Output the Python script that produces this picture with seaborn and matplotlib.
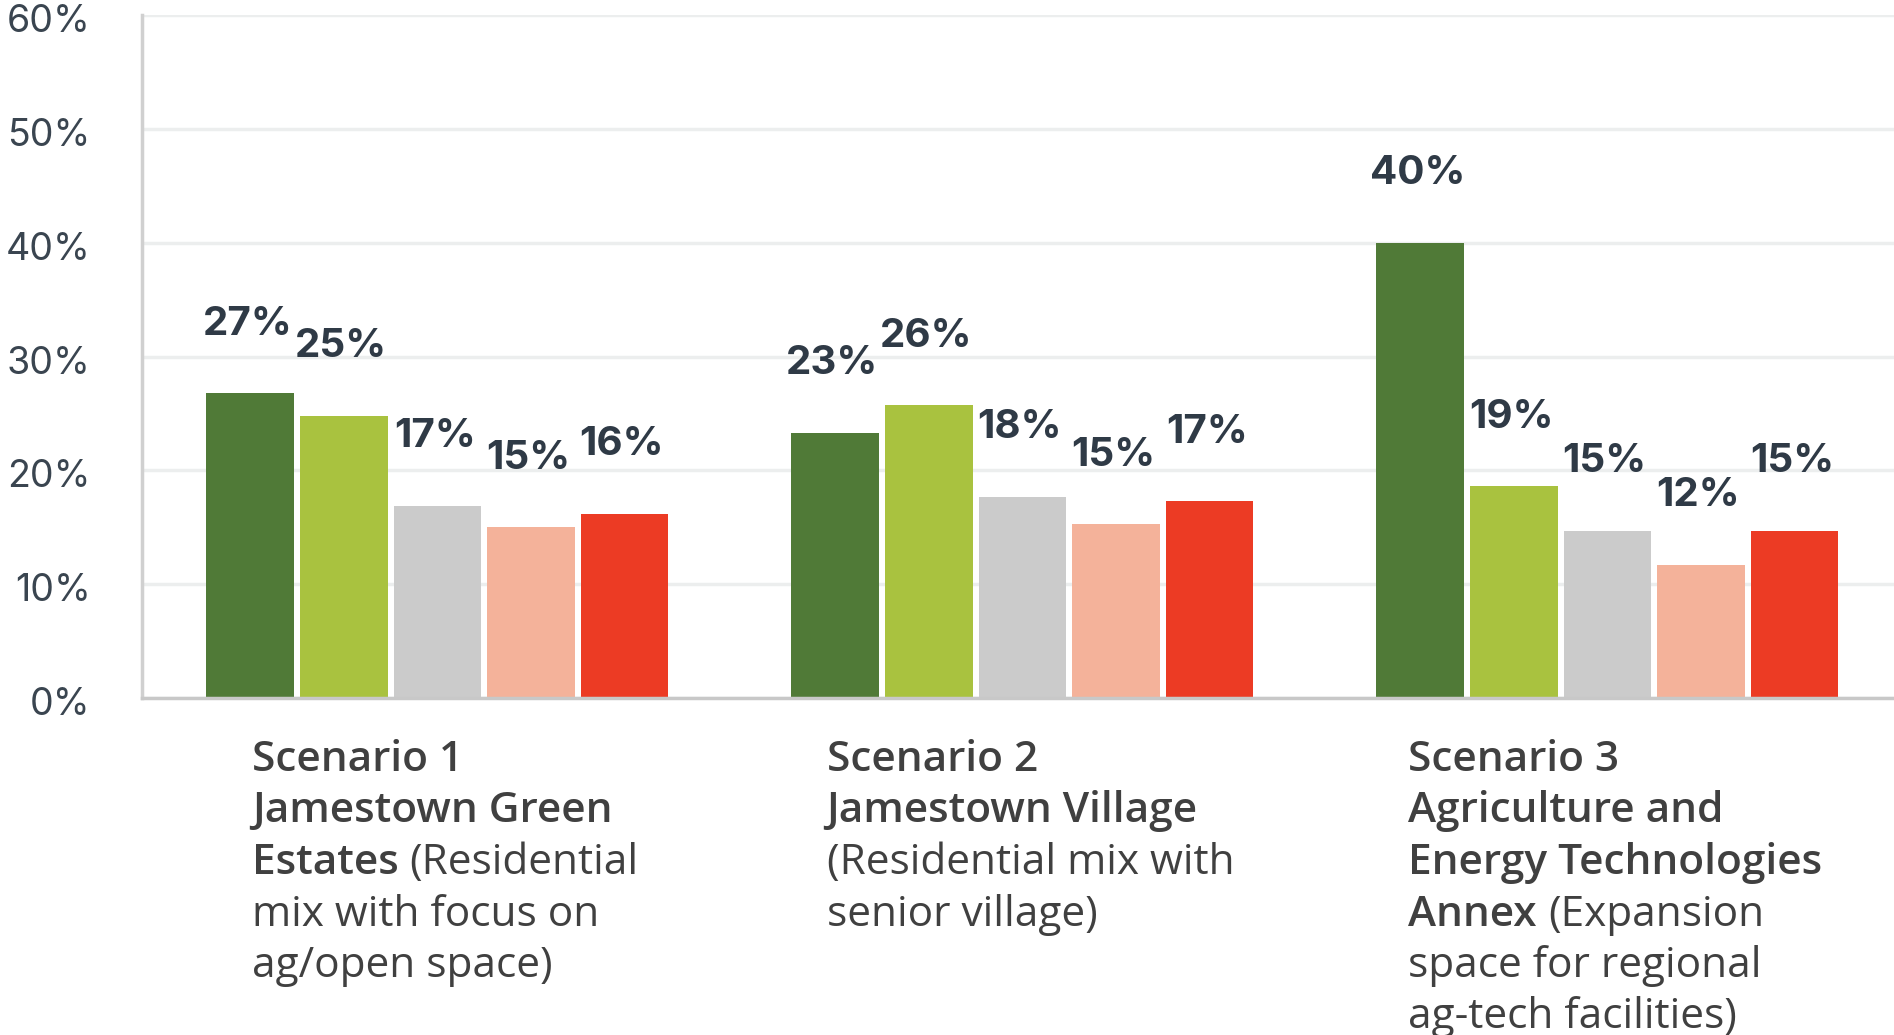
import matplotlib
matplotlib.use("Agg")
import matplotlib.pyplot as plt
import matplotlib.transforms as mtransforms
import seaborn as sns
import pandas as pd

# ---------------- data ----------------
scenarios = ["Scenario 1", "Scenario 2", "Scenario 3"]
series_names = ["Series 1", "Series 2", "Series 3", "Series 4", "Series 5"]
series_1 = [26.8, 23.3, 40.0]
series_2 = [24.8, 25.7, 18.6]
series_3 = [16.9, 17.7, 14.7]
series_4 = [15.0, 15.3, 11.7]
series_5 = [16.2, 17.3, 14.7]
series_colors = ["#507a37", "#a9c23f", "#cbcbcb", "#f4b29a", "#ec3b24"]
y_ticks = [0, 10, 20, 30, 40, 50, 60]

# category labels: list of lines, each line a list of (text, is_bold) segments
label_s1 = [[("Scenario 1", True)],
            [("Jamestown Green", True)],
            [("Estates", True), ("(Residential", False)],
            [("mix with focus on", False)],
            [("ag/open space)", False)]]
label_s2 = [[("Scenario 2", True)],
            [("Jamestown Village", True)],
            [("(Residential mix with", False)],
            [("senior village)", False)]]
label_s3 = [[("Scenario 3", True)],
            [("Agriculture and", True)],
            [("Energy Technologies", True)],
            [("Annex", True), ("(Expansion", False)],
            [("space for regional", False)],
            [("ag-tech facilities)", False)]]
category_labels = [label_s1, label_s2, label_s3]

rows = []
for name, vals in zip(series_names, [series_1, series_2, series_3, series_4, series_5]):
    for sc, v in zip(scenarios, vals):
        rows.append({"scenario": sc, "series": name, "value": v})
df = pd.DataFrame(rows)

# ---------------- style ----------------
sns.set_style("white")
NUM_FONT = ["Inter", "Lato", "DejaVu Sans"]
CAT_FONT = ["Open Sans", "DejaVu Sans"]
plt.rcParams["font.family"] = NUM_FONT

W, H = 1894, 1035
fig = plt.figure(figsize=(W / 100, H / 100), dpi=100)
ax_left, ax_bottom_px, ax_top_px = 142, 698, 15
ax = fig.add_axes([ax_left / W, (H - ax_bottom_px) / H, 1 - ax_left / W,
                   (ax_bottom_px - ax_top_px) / H])

sns.barplot(data=df, x="scenario", y="value", hue="series", order=scenarios,
            hue_order=series_names, palette=series_colors, saturation=1,
            width=0.80, gap=0.065, errorbar=None, legend=False,
            edgecolor="none", linewidth=0, ax=ax)

ax.set_xlim(-0.505, 2.49)
ax.set_ylim(0, 60)
ax.set_yticks(y_ticks)
ax.set_yticklabels([f"{t}%" for t in y_ticks])
ax.set_xticks([])
ax.set_xlabel("")
ax.set_ylabel("")
ax.yaxis.grid(True, color="#eceeee", linewidth=2.5)
ax.set_axisbelow(True)
for s in ["top", "right"]:
    ax.spines[s].set_visible(False)
ax.spines["left"].set_color("#d0d0d0")
ax.spines["left"].set_linewidth(2.5)
ax.spines["bottom"].set_color("#c8c8c8")
ax.spines["bottom"].set_linewidth(2.5)
ax.tick_params(axis="y", length=0, pad=37, labelsize=27, labelcolor="#3a4550")
down = mtransforms.ScaledTranslation(0, -3 / 100, fig.dpi_scale_trans)
for lab in ax.get_yticklabels():
    lab.set_fontfamily(NUM_FONT)
    lab.set_transform(lab.get_transform() + down)

# value labels above bars
for cont in ax.containers:
    for bar in cont:
        h = bar.get_height()
        ax.annotate(f"{h:.0f}%", (bar.get_x() + bar.get_width() / 2, h),
                    xytext=(-2, 42), textcoords="offset points",
                    ha="center", va="baseline", fontsize=29, fontweight="bold",
                    color="#2f3a46", family=NUM_FONT, annotation_clip=False)

# category labels (mixed weights)
cat_fs = 30.5
renderer = fig.canvas.get_renderer()


def text_w(s, bold):
    t = fig.text(0, 0, s, fontsize=cat_fs, family=CAT_FONT,
                 fontweight="semibold" if bold else "normal")
    w = t.get_window_extent(renderer).width
    t.remove()
    return w


space_w = text_w("a a", False) - text_w("aa", False)
first_baseline = 73
line_px = 51.5
shift_px = 8
for i, lines in enumerate(category_labels):
    widths = []
    for line in lines:
        w = sum(text_w(seg, b) for seg, b in line) + space_w * (len(line) - 1)
        widths.append(w)
    block_w = max(widths)
    x0 = -block_w / 2 + shift_px
    for j, line in enumerate(lines):
        x = x0
        for seg, b in line:
            ax.annotate(seg, xy=(i, 0), xycoords=("data", "axes fraction"),
                        xytext=(x, -(first_baseline + j * line_px)),
                        textcoords="offset pixels", ha="left", va="baseline",
                        fontsize=cat_fs, family=CAT_FONT,
                        fontweight="semibold" if b else "normal",
                        color="#404040", annotation_clip=False)
            x += text_w(seg, b) + space_w

fig.savefig("out.png", dpi=100, facecolor="white")
